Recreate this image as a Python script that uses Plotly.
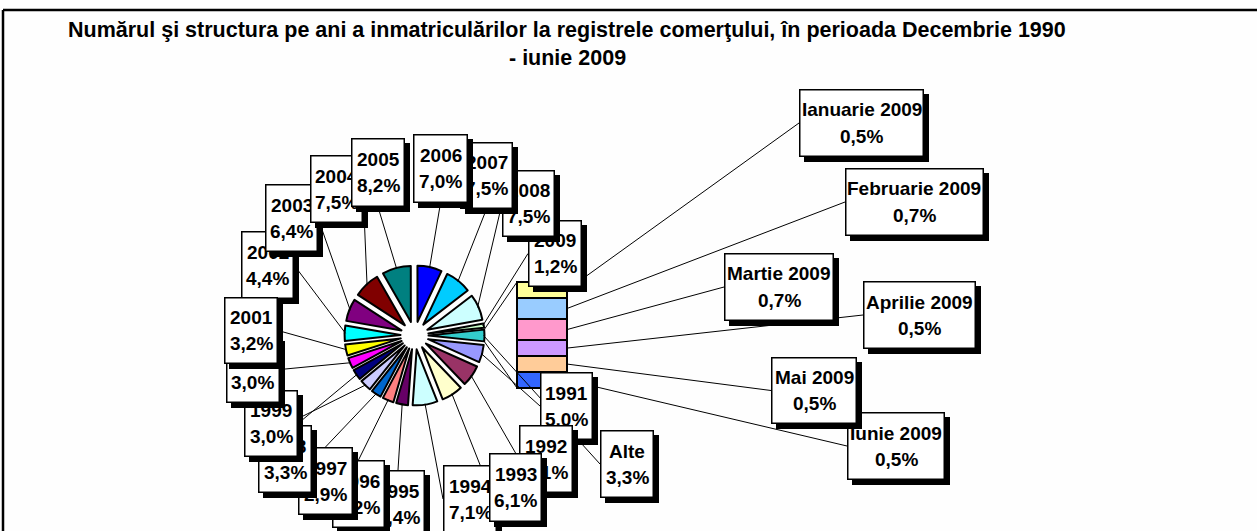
import math
import plotly.graph_objects as go

# ---------------- data (shares in %) ----------------
years = ["1991", "1992", "1993", "1994", "1995", "1996", "1997", "1998", "1999",
         "2000", "2001", "2002", "2003", "2004", "2005", "2006", "2007", "2008", "2009"]
year_share = [5.0, 6.1, 6.1, 7.1, 3.4, 3.2, 2.9, 3.3, 3.0,
              3.0, 3.2, 4.4, 6.4, 7.5, 8.2, 7.0, 7.5, 7.5, 1.2]
months = ["Ianuarie 2009", "Februarie 2009", "Martie 2009",
          "Aprilie 2009", "Mai 2009", "Iunie 2009"]
month_share = [0.5, 0.66, 0.66, 0.5, 0.5, 0.5]
other_name = "Alte"

title_line1 = ("Numărul şi structura pe ani a inmatriculărilor la registrele "
               "comerţului, în perioada Decembrie 1990")
title_line2 = "- iunie 2009"

# ---------------- styles ----------------
year_colors = ["#9999FF", "#993366", "#FFFFCC", "#CCFFFF", "#660066", "#FF8080",
               "#0066CC", "#CCCCFF", "#000080", "#FF00FF", "#FFFF00", "#00FFFF",
               "#800080", "#800000", "#008080", "#0000FF", "#00CCFF", "#CCFFFF",
               "#CCFFCC"]
month_colors = ["#FFFF99", "#99CCFF", "#FF99CC", "#CC99FF", "#FFCC99", "#3366FF"]
other_color = "#33CCCC"

W, H = 1257, 531
FONT = "Liberation Sans, Arial, sans-serif"
LABEL_SIZE = 19
TITLE_SIZE = 21.5

PIE_CX, PIE_CY = 414.5, 335.5
PIE_R = 56.0
PULL = 0.25
BAR_X0, BAR_X1, BAR_TOP, BAR_BOTTOM = 517, 567, 282, 388
SHADOW = 5
BOX_BW = 1.5

# label boxes in pixels: x0, y0, x1, y1, side where the leader line attaches
label_boxes = {
    "1991": (540, 372, 593, 440, "L"),
    "1992": (519, 425, 573, 493, "L"),
    "1993": (489, 453, 542, 522, "L"),
    "1994": (443, 465, 497, 533, "L"),
    "1995": (371, 470, 425, 538, "T"),
    "1996": (332, 460, 385, 528, "T"),
    "1997": (298, 447, 353, 515, "T"),
    "1998": (258, 425, 312, 493, "T"),
    "1999": (244, 390, 298, 457, "R"),
    "2000": (226, 336, 280, 403, "R"),
    "2001": (224, 297, 278, 364, "R"),
    "2002": (241, 231, 294, 299, "R"),
    "2003": (265, 184, 318, 252, "R"),
    "2004": (310, 155, 363, 223, "R"),
    "2005": (351, 138, 405, 207, "B"),
    "2006": (413, 134, 468, 203, "B"),
    "2007": (460, 142, 513, 209, "B"),
    "2008": (502, 170, 555, 237, "L"),
    "2009": (528, 220, 582, 287, "L"),
    "Alte": (600, 430, 654, 498, "L"),
    "Ianuarie 2009": (799, 89, 924, 157, "L"),
    "Februarie 2009": (845, 168, 984, 236, "L"),
    "Martie 2009": (724, 253, 834, 321, "L"),
    "Aprilie 2009": (863, 281, 976, 349, "L"),
    "Mai 2009": (771, 357, 857, 424, "L"),
    "Iunie 2009": (847, 412, 945, 480, "L"),
}
draw_order = ["2009", "2008", "2007", "2006", "1991", "1992", "1994", "1993",
              "1995", "1996", "1997", "1998", "1999", "2000", "2002", "2001",
              "2003", "2004", "2005", "Alte", "Ianuarie 2009", "Februarie 2009",
              "Martie 2009", "Aprilie 2009", "Iunie 2009", "Mai 2009"]


def fx(x):
    return x / W


def fy(y):
    return 1 - y / H


def pct(v):
    return f"{v:.1f}".replace(".", ",") + "%"


pie_labels = years + [other_name]
other_value = sum(month_share)
pie_values = year_share + [other_value]
pie_colors = year_colors + [other_color]
total = sum(pie_values)
rotation = 90 + 180 * other_value / total  # "Alte" centred at 3 o'clock

fig = go.Figure()
side = PIE_R * (2 + 2 * PULL)
fig.add_trace(go.Pie(
    labels=pie_labels, values=pie_values, sort=False, direction="clockwise",
    rotation=rotation, pull=[PULL] * len(pie_values),
    marker=dict(colors=pie_colors, line=dict(color="black", width=2)),
    textinfo="none", hoverinfo="label+percent", showlegend=False,
    domain=dict(x=[fx(PIE_CX - side / 2), fx(PIE_CX + side / 2)],
                y=[fy(PIE_CY + side / 2), fy(PIE_CY - side / 2)]),
))

# stacked bar of the 2009 months (bottom = Iunie, top = Ianuarie)
m_total = sum(month_share)
px_unit = (BAR_BOTTOM - BAR_TOP) / m_total
PADPX = 2
for name, v, c in reversed(list(zip(months, month_share, month_colors))):
    fig.add_trace(go.Bar(
        x=[other_name], y=[v], width=1, name=name,
        marker=dict(color=c, line=dict(color="black", width=2)),
        showlegend=False, hoverinfo="name+y"))
xpad = PADPX / (BAR_X1 - BAR_X0)

# ---------------- leader lines ----------------
def anchor(box):
    x0, y0, x1, y1, s = box
    if s == "L":
        return x0, (y0 + y1) / 2
    if s == "R":
        return x1, (y0 + y1) / 2
    if s == "T":
        return (x0 + x1) / 2, y0
    return (x0 + x1) / 2, y1


def line(x0, y0, x1, y1, w=1):
    return dict(type="line", xref="paper", yref="paper",
                x0=fx(x0), y0=fy(y0), x1=fx(x1), y1=fy(y1),
                line=dict(color="black", width=w))


shapes = []
cum = 0.0
rr = PIE_R * (1 + PULL)
for name, v in zip(pie_labels, pie_values):
    mid = math.radians(rotation + 360 * (cum + v / 2) / total)
    cum += v
    sx = PIE_CX + (rr - 1) * math.sin(mid)
    sy = PIE_CY - (rr - 1) * math.cos(mid)
    ex, ey = anchor(label_boxes[name])
    shapes.append(line(sx, sy, ex, ey))

# series lines from the "Alte" slice to the bar
a_start = math.radians(rotation + 360 * (total - other_value) / total)
a_end = math.radians(rotation + 360)
a_mid = (a_start + a_end) / 2
pcx = PIE_CX + PULL * PIE_R * math.sin(a_mid)
pcy = PIE_CY - PULL * PIE_R * math.cos(a_mid)
shapes.append(line(pcx + PIE_R * math.sin(a_start), pcy - PIE_R * math.cos(a_start),
                   BAR_X0, BAR_BOTTOM - m_total * px_unit))
shapes.append(line(pcx + PIE_R * math.sin(a_end), pcy - PIE_R * math.cos(a_end),
                   BAR_X0, BAR_BOTTOM))

# month leader lines from bar segments
for i, name in enumerate(months):
    below = sum(month_share[i + 1:])
    ym = BAR_BOTTOM - (below + month_share[i] / 2) * px_unit
    ex, ey = anchor(label_boxes[name])
    shapes.append(line(BAR_X1, ym, ex, ey))

# outer frame (top and left edges are visible in the reference)
shapes.append(line(3, 10, W, 10, w=2.5))
shapes.append(line(3, 10, 3, H, w=2.5))

# ---------------- labels ----------------
values_by_name = dict(zip(pie_labels, pie_values))
values_by_name.update(dict(zip(months, month_share)))

annotations = []
for name in draw_order:
    x0, y0, x1, y1, _ = label_boxes[name]
    cx, cy = (x0 + x1) / 2, (y0 + y1) / 2
    w, h = x1 - x0, y1 - y0
    common = dict(xref="paper", yref="paper", showarrow=False,
                  xanchor="center", yanchor="middle")
    annotations.append(dict(common, x=fx(cx + SHADOW), y=fy(cy + SHADOW), text=" ",
                            width=w, height=h, bgcolor="black",
                            borderwidth=0, borderpad=0))
    annotations.append(dict(common, x=fx(cx), y=fy(cy), text=" ",
                            width=w - 2 * BOX_BW, height=h - 2 * BOX_BW,
                            bgcolor="white", bordercolor="black",
                            borderwidth=BOX_BW, borderpad=0))
    for dy, txt in ((-13, name), (13, pct(values_by_name[name]))):
        annotations.append(dict(common, x=fx(cx), y=fy(cy + dy),
                                text=f"<b>{txt}</b>",
                                font=dict(family=FONT, size=LABEL_SIZE, color="black")))

for ty, txt in ((30, title_line1), (58, title_line2)):
    annotations.append(dict(xref="paper", yref="paper", showarrow=False,
                            xanchor="center", yanchor="middle",
                            x=fx(567), y=fy(ty), text=f"<b>{txt}</b>",
                            font=dict(family=FONT, size=TITLE_SIZE, color="black")))

fig.update_layout(
    width=W, height=H, margin=dict(l=0, r=0, t=0, b=0, pad=0),
    paper_bgcolor="#fefefe", plot_bgcolor="rgba(0,0,0,0)",
    showlegend=False, barmode="stack",
    xaxis=dict(domain=[fx(BAR_X0 - PADPX), fx(BAR_X1 + PADPX)],
               range=[-0.5 - xpad, 0.5 + xpad], visible=False, fixedrange=True),
    yaxis=dict(domain=[fy(BAR_BOTTOM + PADPX), fy(BAR_TOP - PADPX)],
               range=[-PADPX / px_unit, m_total + PADPX / px_unit],
               visible=False, fixedrange=True),
    shapes=shapes, annotations=annotations,
    font=dict(family=FONT),
)

fig.write_html(
    "out.html", config={"displayModeBar": False},
    post_script="document.body.style.margin='0';")
